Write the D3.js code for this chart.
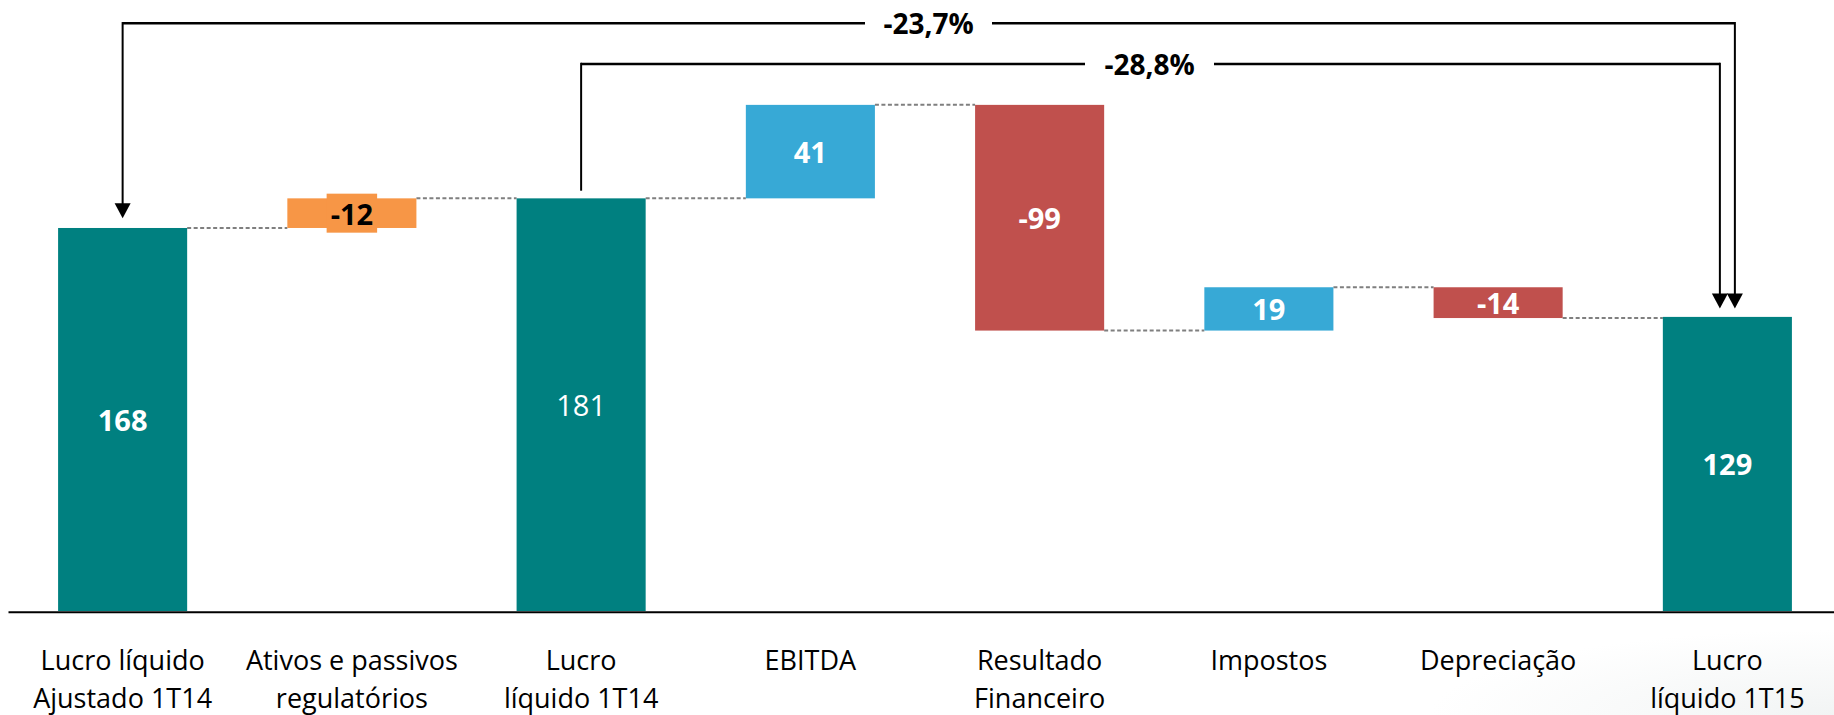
<!DOCTYPE html>
<html>
<head>
<meta charset="utf-8">
<script src="https://cdn.jsdelivr.net/npm/d3@7/dist/d3.min.js"></script>
<style>
  html, body { margin: 0; padding: 0; background: #fff; }
  svg { display: block; }
  text { font-family: "Open Sans", Lato, "DejaVu Sans", sans-serif; }
</style>
</head>
<body>
<svg id="chart" width="1834" height="715"></svg>
<script>
// ---- data ----
const categories = [
  "Lucro líquido\nAjustado 1T14",
  "Ativos e passivos\nregulatórios",
  "Lucro\nlíquido 1T14",
  "EBITDA",
  "Resultado\nFinanceiro",
  "Impostos",
  "Depreciação",
  "Lucro\nlíquido 1T15"
];
const valueLabels = ["168", "-12", "181", "41", "-99", "19", "-14", "129"];
const barFrom = [0, 168, 0, 181, 222, 123, 142, 0];
const barTo   = [168, 181, 181, 222, 123, 142, 128.5, 129];
const barKind = ["total", "regulatory", "total", "increase", "decrease", "increase", "decrease", "total"];

const bracketFrom   = [0, 2];
const bracketTo     = [7, 7];
const bracketLabels = ["-23,7%", "-28,8%"];

// ---- styles ----
const kindColor = {
  total: "#008080",
  regulatory: "#F79646",
  increase: "#37A9D6",
  decrease: "#C0504D"
};
const regularWeightLabels = new Set([2]);

const W = 1834, H = 715;
const svg = d3.select("#chart");

// subtle background shading bottom-right
const defs = svg.append("defs");
const rg = defs.append("radialGradient").attr("id", "bgShade")
  .attr("cx", 1).attr("cy", 1).attr("r", 0.55);
rg.append("stop").attr("offset", "0%").attr("stop-color", "#e9eded");
rg.append("stop").attr("offset", "100%").attr("stop-color", "#ffffff");
svg.append("rect").attr("width", W).attr("height", H).attr("fill", "#fff");
svg.append("rect").attr("x", 1100).attr("y", 560).attr("width", 734).attr("height", 155)
  .attr("fill", "url(#bgShade)").attr("opacity", 0.6);

const idx = d3.range(categories.length);
const x = d3.scaleBand().domain(idx).range([8, 1842]).paddingInner(0.437).paddingOuter(0.2185);
const y = d3.scaleLinear().domain([0, 268]).range([611, 0]);
const cx = i => x(i) + x.bandwidth() / 2;

// connectors (dashed)
svg.append("g").selectAll("line").data(idx.slice(0, -1)).join("line")
  .attr("x1", i => x(i) + x.bandwidth())
  .attr("x2", i => x(i + 1))
  .attr("y1", i => y(barTo[i]))
  .attr("y2", i => y(barTo[i]))
  .attr("stroke", "#7f7f7f")
  .attr("stroke-width", 2)
  .attr("stroke-dasharray", "4,2.5");

// bars
svg.append("g").selectAll("rect").data(idx).join("rect")
  .attr("x", i => x(i))
  .attr("width", x.bandwidth())
  .attr("y", i => y(Math.max(barFrom[i], barTo[i])))
  .attr("height", i => Math.abs(y(barFrom[i]) - y(barTo[i])))
  .attr("fill", i => kindColor[barKind[i]]);

// value labels
const lab = svg.append("g");
idx.forEach(i => {
  const my = (y(barFrom[i]) + y(barTo[i])) / 2;
  const t = lab.append("text")
    .attr("x", cx(i)).attr("y", my)
    .attr("text-anchor", "middle")
    .attr("dominant-baseline", "central")
    .attr("font-size", 29)
    .attr("font-weight", regularWeightLabels.has(i) ? 400 : 700)
    .attr("fill", barKind[i] === "regulatory" ? "#000" : "#fff")
    .text(valueLabels[i]);
  if (barKind[i] === "regulatory") {
    const bb = t.node().getBBox();
    lab.insert("rect", () => t.node())
      .attr("x", bb.x - 4).attr("y", my - 19.5)
      .attr("width", bb.width + 8).attr("height", 39)
      .attr("fill", kindColor.regulatory);
  }
});

// axis
const axis = svg.append("g").attr("transform", "translate(0,611.7)")
  .call(d3.axisBottom(x).tickSize(0).tickSizeOuter(0).tickFormat(i => ""));
axis.select(".domain").attr("stroke", "#000").attr("stroke-width", 2);
axis.selectAll(".tick text").each(function(i) {
  const t = d3.select(this).attr("dy", null).attr("y", 0)
    .attr("font-size", 27).attr("fill", "#000").attr("font-family", "'Open Sans', Lato, sans-serif");
  categories[i].split("\n").forEach((line, k) => {
    t.append("tspan").attr("x", 0).attr("y", 58.3 + k * 38.5).text(line);
  });
});

// brackets
const bracketY = [23.3, 64];
const leftEnd = [218.3, 190.7];
const leftArrow = [true, false];
const rightOffset = [7.5, -7.5];
const labelGapHalf = [63.5, 64.5];
const labelCx = [928.5, 1149.5];
const br = svg.append("g");
function arrowHead(px, py) {
  br.append("path")
    .attr("d", `M${px - 8},${py - 15} L${px + 8},${py - 15} L${px},${py} Z`)
    .attr("fill", "#000");
}
bracketFrom.forEach((f, k) => {
  const xl = cx(f);
  const xr = cx(bracketTo[k]) + rightOffset[k];
  const by = bracketY[k];
  const rightTip = y(barTo[bracketTo[k]]) - 8.5;
  br.append("line").attr("x1", xl).attr("x2", labelCx[k] - labelGapHalf[k])
    .attr("y1", by).attr("y2", by).attr("stroke", "#000").attr("stroke-width", 2.5);
  br.append("line").attr("x1", labelCx[k] + labelGapHalf[k]).attr("x2", xr)
    .attr("y1", by).attr("y2", by).attr("stroke", "#000").attr("stroke-width", 2.5);
  const lEnd = leftArrow[k] ? leftEnd[k] - 12 : leftEnd[k];
  br.append("line").attr("x1", xl).attr("x2", xl).attr("y1", by - 1.25).attr("y2", lEnd)
    .attr("stroke", "#000").attr("stroke-width", 2);
  if (leftArrow[k]) arrowHead(xl, leftEnd[k]);
  br.append("line").attr("x1", xr).attr("x2", xr).attr("y1", by - 1.25).attr("y2", rightTip - 12)
    .attr("stroke", "#000").attr("stroke-width", 2);
  arrowHead(xr, rightTip);
  br.append("text").attr("x", labelCx[k]).attr("y", by)
    .attr("text-anchor", "middle").attr("dominant-baseline", "central")
    .attr("font-size", 28).attr("font-weight", 700).attr("fill", "#000")
    .text(bracketLabels[k]);
});
</script>
</body>
</html>
